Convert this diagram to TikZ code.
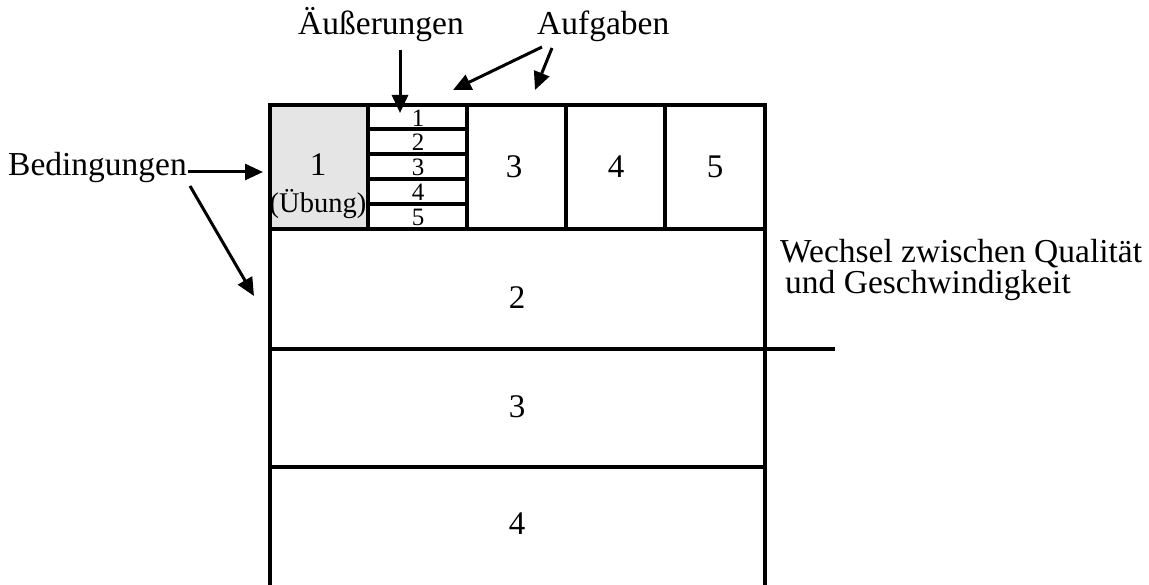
\documentclass[tikz,border=0pt]{standalone}
\usepackage{fontspec}
\setmainfont{Liberation Serif}
\usetikzlibrary{arrows.meta}
\begin{document}
\begin{tikzpicture}[x=1pt,y=-1pt,
  frame/.style={line width=3.3pt},
  lbl/.style={inner sep=0pt,font=\fontsize{33.5}{31}\selectfont},
  big/.style={inner sep=0pt,font=\fontsize{33}{33}\selectfont},
  small/.style={inner sep=0pt,font=\fontsize{25}{25}\selectfont},
  arr/.style={line width=3pt,-{Triangle[length=18pt,width=16pt]}}]
\useasboundingbox (0,0) rectangle (1149,585);
% grey cell
\fill[gray!20] (270,105) rectangle (368,229);
% frame
\draw[frame] (270,585) -- (270,105) -- (765,105) -- (765,585);
\draw[frame] (270,229) -- (765,229);
\draw[frame] (270,349) -- (835,349);
\draw[frame] (270,467) -- (765,467);
\foreach \x in {368,467,566,665} \draw[frame] (\x,105) -- (\x,229);
\foreach \y in {129,154,179,204} \draw[frame] (368,\y) -- (467,\y);
% cell labels
\node[big] (c1) at (318,165) {1};
\node[inner sep=0pt,font=\fontsize{28.5}{28.5}\selectfont] (ueb) at (318,204) {(Übung)};
\node[small] (s1) at (418,118) {1};
\node[small] (s2) at (418,142.5) {2};
\node[small] (s3) at (418,167.5) {3};
\node[small] (s4) at (418,192) {4};
\node[small] (s5) at (418,217) {5};
\node[big] (c3) at (514,167) {3};
\node[big] (c4) at (616,167) {4};
\node[big] (c5) at (715,167) {5};
\node[big] (r2) at (517,298) {2};
\node[big] (r3) at (517,407) {3};
\node[big] (r4) at (517,524) {4};
% outside labels
\node[lbl,anchor=base west] (aeu) at (298,35) {Äußerungen};
\node[lbl,anchor=base west] (auf) at (537,35) {Aufgaben};
\node[lbl,anchor=base west] (bed) at (8,176) {Bedingungen};
\node[lbl,anchor=base west,align=left] (wech) at (780,294) {Wechsel zwischen Qualität\\\hspace*{5pt}und Geschwindigkeit};
% arrow ends
\coordinate (aeuS) at (400,50);
\coordinate (aeuT) at (400,113);
\coordinate (auf1S) at (542,47);
\coordinate (auf1T) at (453,90);
\coordinate (auf2S) at (552,48);
\coordinate (auf2T) at (535,90);
\coordinate (bedS) at (188,172);
\coordinate (bedT) at (263,172);
\coordinate (bed2S) at (190,186);
\coordinate (bed2T) at (254,296);
\draw[arr] (aeuS) -- (aeuT);
\draw[arr] (auf1S) -- (auf1T);
\draw[arr] (auf2S) -- (auf2T);
\draw[arr] (bedS) -- (bedT);
\draw[arr] (bed2S) -- (bed2T);
\end{tikzpicture}
\end{document}
